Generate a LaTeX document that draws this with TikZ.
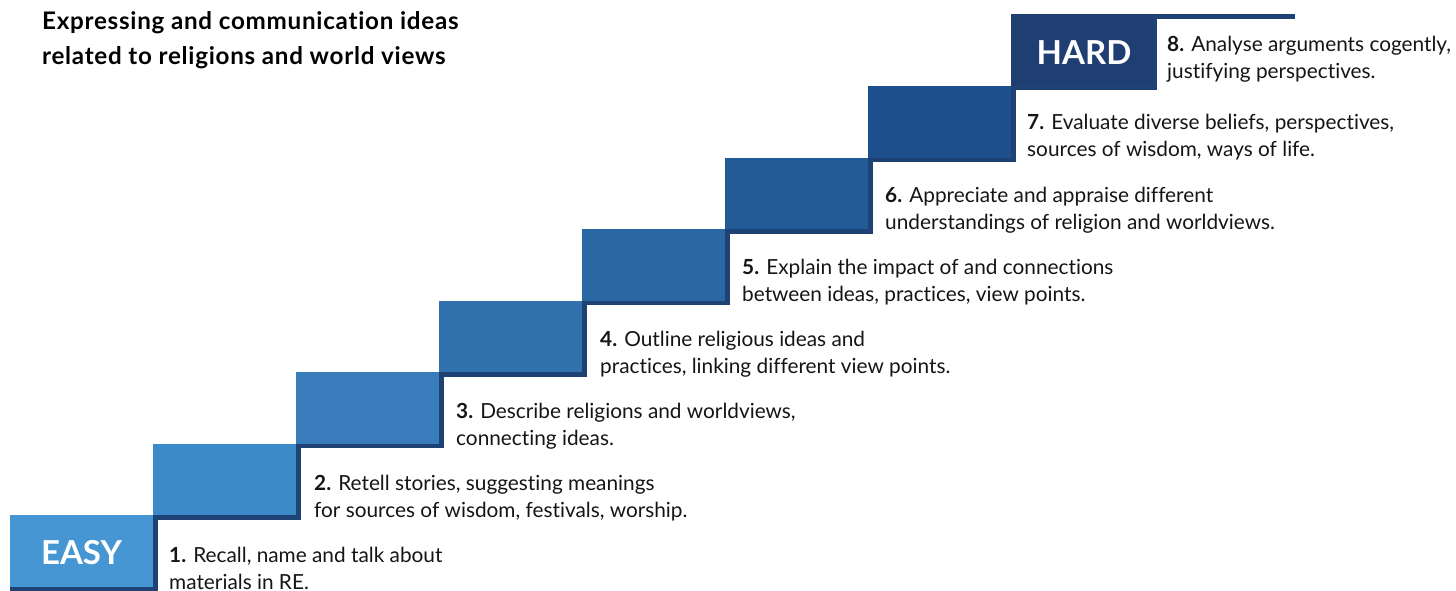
\documentclass[tikz,border=0pt]{standalone}
\usepackage{fontspec}
\setmainfont[Ligatures=NoCommon]{Lato}
\definecolor{c1}{HTML}{4596D2}
\definecolor{c2}{HTML}{3D8AC8}
\definecolor{c3}{HTML}{387CBB}
\definecolor{c4}{HTML}{3172AE}
\definecolor{c5}{HTML}{2B67A3}
\definecolor{c6}{HTML}{235B97}
\definecolor{c7}{HTML}{1D4F8C}
\definecolor{c8}{HTML}{1F3F73}
\definecolor{edge}{HTML}{1F4275}
\definecolor{ink}{HTML}{151515}
\begin{document}
\begin{tikzpicture}[x=1pt,y=-1pt,
  blk/.style={draw=none, inner sep=0pt, outer sep=0pt, anchor=north west,
    minimum width=143pt, minimum height=72pt},
  levelword/.style={text=white, font=\fontsize{33}{33}\selectfont\bfseries},
  lbl/.style={anchor=base west, align=left, inner sep=0pt, text=ink,
    font=\fontsize{20.8}{27}\selectfont},
  ttl/.style={anchor=base west, align=left, inner sep=0pt, text=black,
    font=\fontsize{24.2}{35}\selectfont\bfseries\addfontfeatures{LetterSpace=3}}]
\useasboundingbox (0,0) rectangle (1456,591);
% steps
\node[blk, fill=c1, minimum height=76pt, levelword] (s1) at (10,515) {EASY};
\node[blk, fill=c2] (s2) at (153,443.5) {};
\node[blk, fill=c3] (s3) at (296,372) {};
\node[blk, fill=c4] (s4) at (439,300.5) {};
\node[blk, fill=c5] (s5) at (582,229) {};
\node[blk, fill=c6] (s6) at (725,157.5) {};
\node[blk, fill=c7] (s7) at (868,86) {};
\node[blk, fill=c8, minimum width=146pt, minimum height=76pt, levelword] (s8) at (1011,14.5) {\raisebox{-2pt}{HARD}};
% outline of the stairs
\draw[edge, line width=4.5pt, line join=miter]
  (10,589) -- (155.25,589) -- (155.25,517.25) -- (298.25,517.25)
  -- (298.25,445.75) -- (441.25,445.75) -- (441.25,374.25) -- (584.25,374.25)
  -- (584.25,302.75) -- (727.25,302.75) -- (727.25,231.25) -- (870.25,231.25)
  -- (870.25,159.75) -- (1013.25,159.75) -- (1013.25,88.25) -- (1155,88.25)
  -- (1155,16.75) -- (1295,16.75);
% title (anchored at the baseline of its last line)
\node[ttl] (title) at (42,65) {Expressing and communication ideas\\related to religions and world views};
% labels (anchored at the baseline of their last line)
\node[lbl] (l1) at (169,589) {\textbf{1.} Recall, name and talk about\\materials in RE.};
\node[lbl] (l2) at (314,517) {\textbf{2.} Retell stories, suggesting meanings\\for sources of wisdom, festivals, worship.};
\node[lbl] (l3) at (456,445) {\textbf{3.} Describe religions and worldviews,\\connecting ideas.};
\node[lbl] (l4) at (600,373) {\textbf{4.} Outline religious ideas and\\practices, linking different view points.};
\node[lbl] (l5) at (742,301) {\textbf{5.} Explain the impact of and connections\\between ideas, practices, view points.};
\node[lbl] (l6) at (885,229) {\textbf{6.} Appreciate and appraise different\\understandings of religion and worldviews.};
\node[lbl] (l7) at (1027,157) {\textbf{7.} Evaluate diverse beliefs, perspectives,\\sources of wisdom, ways of life.};
\node[lbl] (l8) at (1167,79) {\textbf{8.} Analyse arguments cogently,\\justifying perspectives.};
\end{tikzpicture}
\end{document}
